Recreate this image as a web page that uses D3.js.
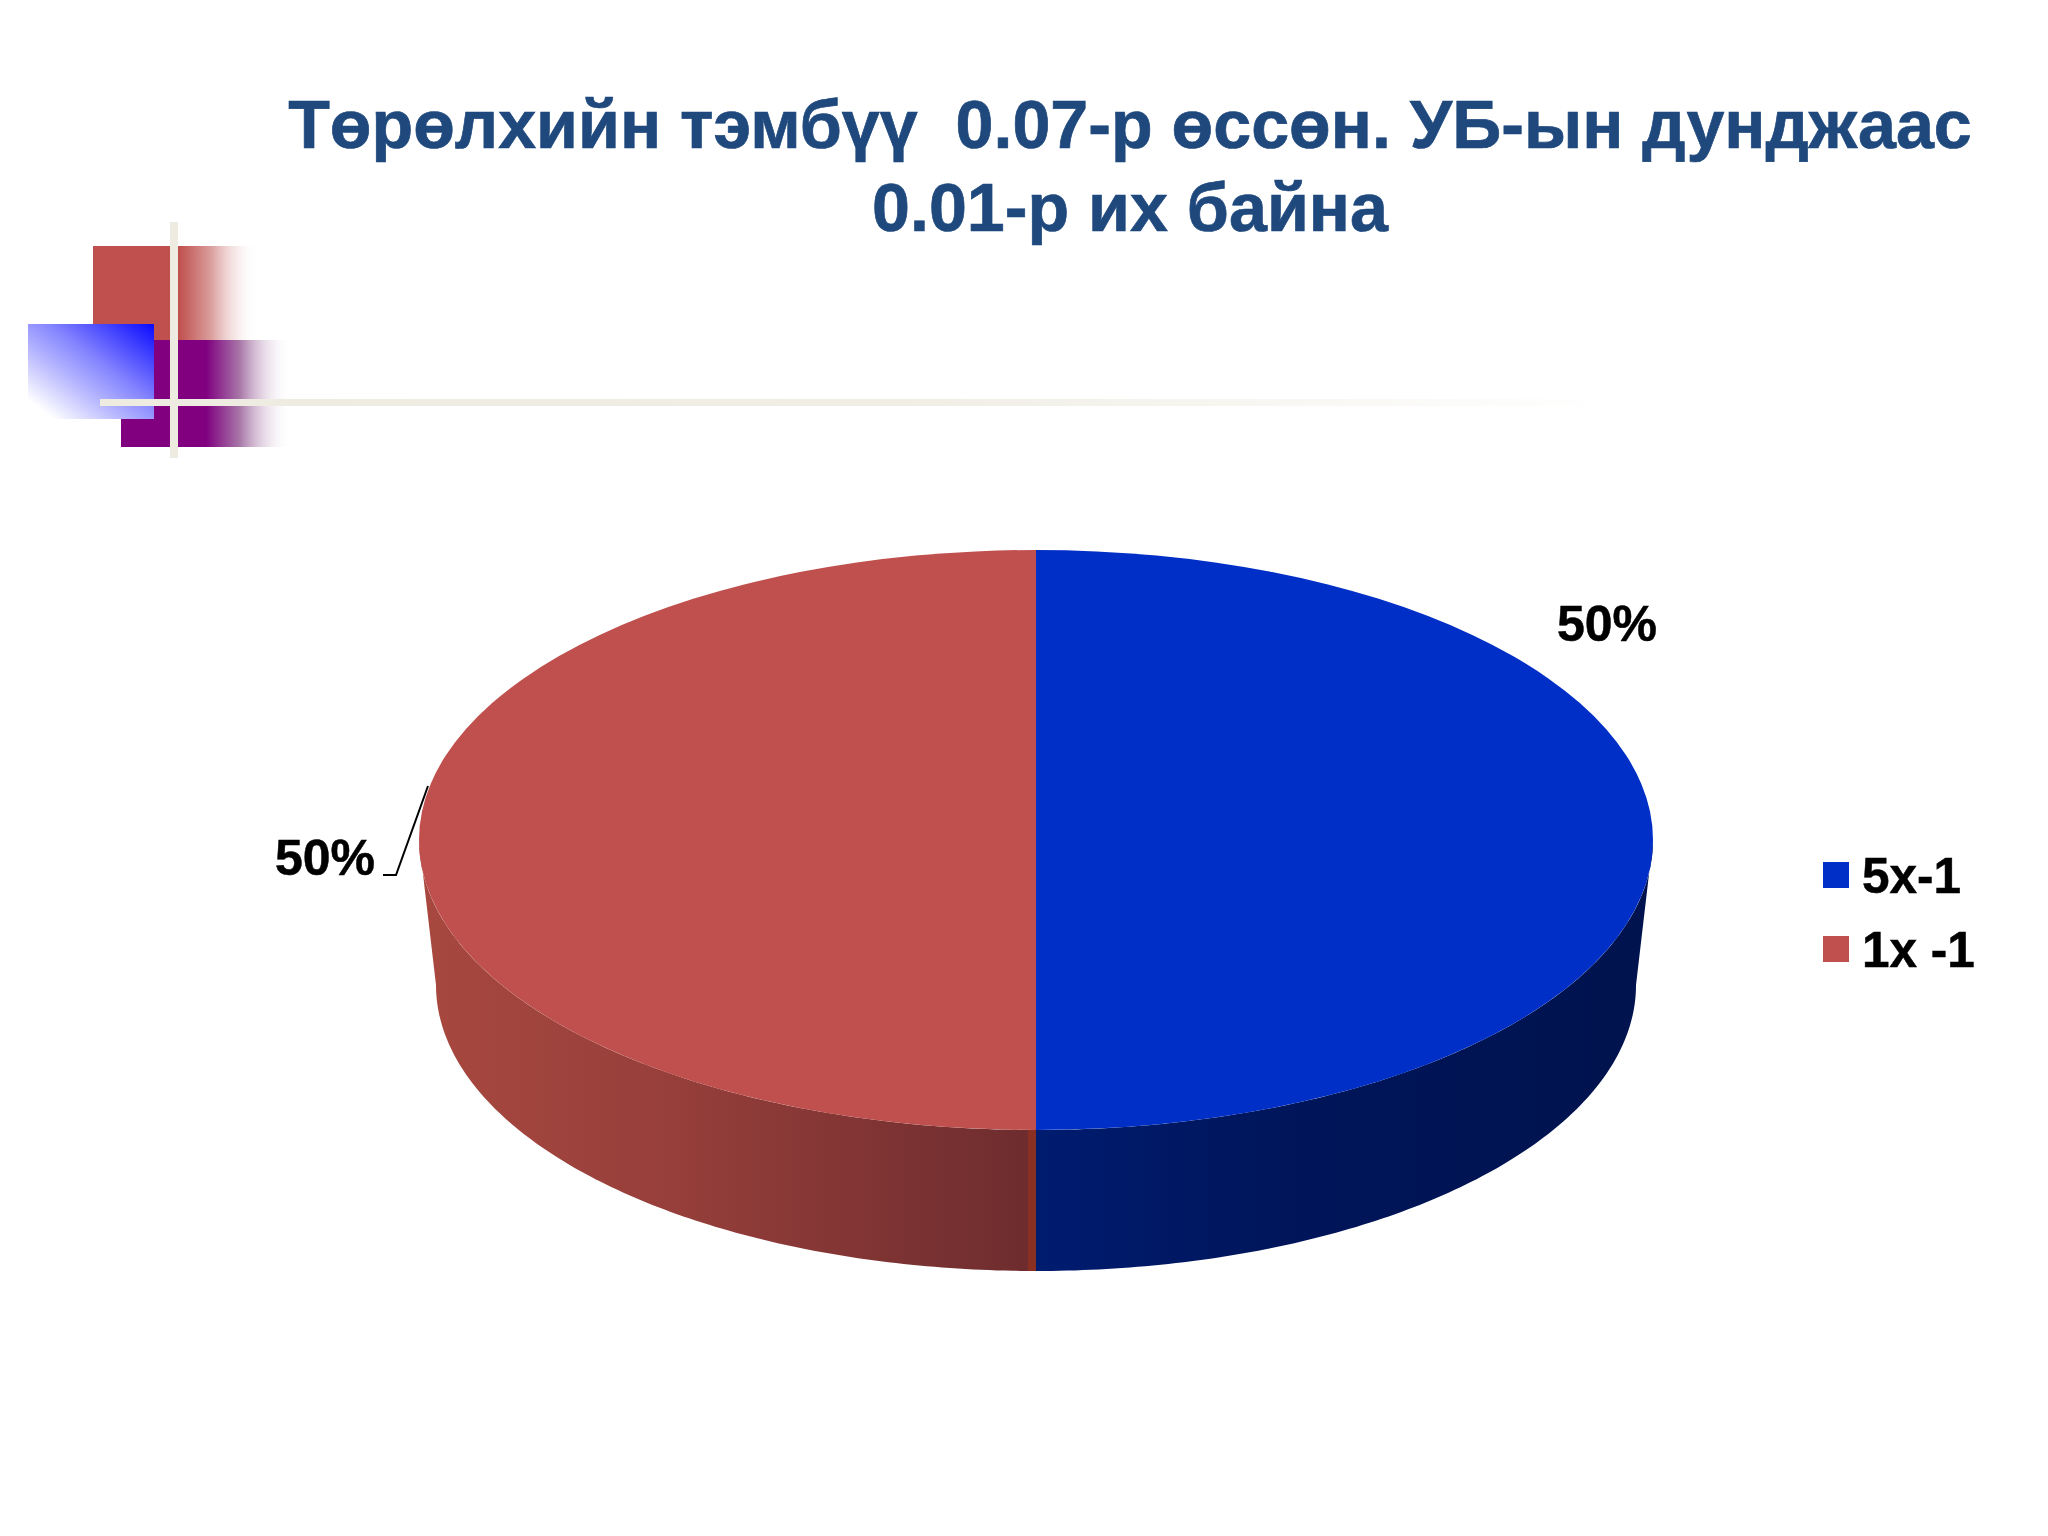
<!DOCTYPE html>
<html><head><meta charset="utf-8">
<script src="https://cdn.jsdelivr.net/npm/d3@7"></script>
<style>html,body{margin:0;background:#fff}svg{display:block}text{font-family:"Liberation Sans",Arial,sans-serif;font-weight:700}</style>
</head><body><svg id="c" width="2048" height="1536"></svg>
<script>
const titleLines = ["Төрөлхийн тэмбүү  0.07-р өссөн. УБ-ын дунджаас", "0.01-р их байна"];
const categories = ["5х-1", "1х -1"];
const seriesValues = [50, 50];
const valueLabels = ["50%", "50%"];
const sliceColors = ["#002fc8", "#bf504e"];

const svg = d3.select("#c");
const defs = svg.append("defs");
function grad(id, stops, x2 = 1, y2 = 0, x1 = 0, y1 = 0) {
  const g = defs.append("linearGradient").attr("id", id)
    .attr("x1", x1).attr("y1", y1).attr("x2", x2).attr("y2", y2);
  stops.forEach(s => g.append("stop").attr("offset", s[0]).attr("stop-color", s[1]).attr("stop-opacity", s[2] ?? 1));
}
grad("fadeRed", [[0, "#bf504e"], [0.52, "#bf504e"], [0.72, "#dba09e"], [1, "#ffffff", 0]]);
grad("fadePurple", [[0, "#800080"], [0.5, "#800080"], [0.7, "#a878a8"], [1, "#ffffff", 0]]);
grad("fadeBlue", [[0, "#0a0aff"], [0.42, "#8585ff"], [0.62, "#b5b5ff"], [0.9, "#ffffff"], [1, "#ffffff"]], 0, 1, 1, 0);
grad("fadeLine", [[0, "#eeece1"], [0.55, "#f0eee5"], [1, "#ffffff"]]);
grad("sideRed", [[0, "#a8483f"], [0.4, "#973f3b"], [0.987, "#6e2c2e"], [0.987, "#8a3022"], [1, "#8a3022"]]);
grad("sideBlue", [[0, "#001c70"], [0.4, "#00155a"], [1, "#00134e"]]);

// decoration
svg.append("rect").attr("x", 93).attr("y", 246).attr("width", 165).attr("height", 94).attr("fill", "url(#fadeRed)");
svg.append("rect").attr("x", 121).attr("y", 340).attr("width", 170).attr("height", 107).attr("fill", "url(#fadePurple)");
svg.append("rect").attr("x", 28).attr("y", 324).attr("width", 126).attr("height", 95).attr("fill", "url(#fadeBlue)");
svg.append("rect").attr("x", 170).attr("y", 222).attr("width", 8).attr("height", 236).attr("fill", "#eeece1");
svg.append("rect").attr("x", 100).attr("y", 399).attr("width", 1510).attr("height", 7).attr("fill", "url(#fadeLine)");

// title
svg.selectAll("text.title").data(titleLines).join("text").attr("class", "title")
  .attr("x", 1130).attr("y", (d, i) => 148 + i * 83)
  .attr("text-anchor", "middle").attr("font-size", 68.2).attr("fill", "#1f497d")
  .attr("stroke", "#1f497d").attr("stroke-width", 0.7)
  .style("white-space", "pre").text(d => d);

// pie
const top_ = { cx: 1036, cy: 840, rx: 617, ry: 290 };
const bot = { cx: 1036, cy: 985, rx: 600, ry: 286 };
const pie = d3.pie().sort(null).value(d => d);
const arcs = pie(seriesValues);
const pt = (e, a) => [e.cx + e.rx * Math.sin(a), e.cy - e.ry * Math.cos(a)];
const unit = d3.arc().innerRadius(0).outerRadius(1);
const line = d3.line();
function edge(e, a0, a1) { return d3.range(0, 121).map(i => pt(e, a0 + (a1 - a0) * i / 120)); }

// side walls: only the front half of each slice (angles between PI/2 and 3PI/2)
arcs.forEach((a, i) => {
  const a0 = Math.max(a.startAngle, Math.PI / 2), a1 = Math.min(a.endAngle, 3 * Math.PI / 2);
  const poly = edge(top_, a0, a1).concat(edge(bot, a1, a0));
  svg.append("path").attr("d", line(poly) + "Z").attr("fill", i === 0 ? "url(#sideBlue)" : "url(#sideRed)");
});
// top faces
svg.selectAll("path.slice").data(arcs).join("path").attr("class", "slice")
  .attr("transform", `translate(${top_.cx},${top_.cy}) scale(${top_.rx},${top_.ry})`)
  .attr("d", unit).attr("fill", (d, i) => sliceColors[i]);

// data labels
const labelPos = [[1607, 641], [325, 875]];
svg.selectAll("text.val").data(valueLabels).join("text").attr("class", "val")
  .attr("x", (d, i) => labelPos[i][0]).attr("y", (d, i) => labelPos[i][1])
  .attr("text-anchor", "middle").attr("font-size", 50).attr("fill", "#000")
  .attr("stroke", "#000").attr("stroke-width", 0.5).text(d => d);
svg.append("path").attr("d", "M383,875H396L428,786").attr("fill", "none").attr("stroke", "#000").attr("stroke-width", 2);

// legend
const legY = d3.scalePoint().domain(categories).range([875, 949]);
const leg = svg.selectAll("g.leg").data(categories).join("g").attr("class", "leg")
  .attr("transform", d => `translate(1823,${legY(d)})`);
leg.append("rect").attr("width", 26).attr("height", 26).attr("fill", (d, i) => sliceColors[i])
  .attr("x", 0).attr("y", -13);
leg.append("text").attr("x", 39).attr("y", 18).attr("font-size", 49.5).attr("fill", "#000")
  .attr("stroke", "#000").attr("stroke-width", 0.5)
  .style("white-space", "pre").text(d => d);
</script></body></html>
